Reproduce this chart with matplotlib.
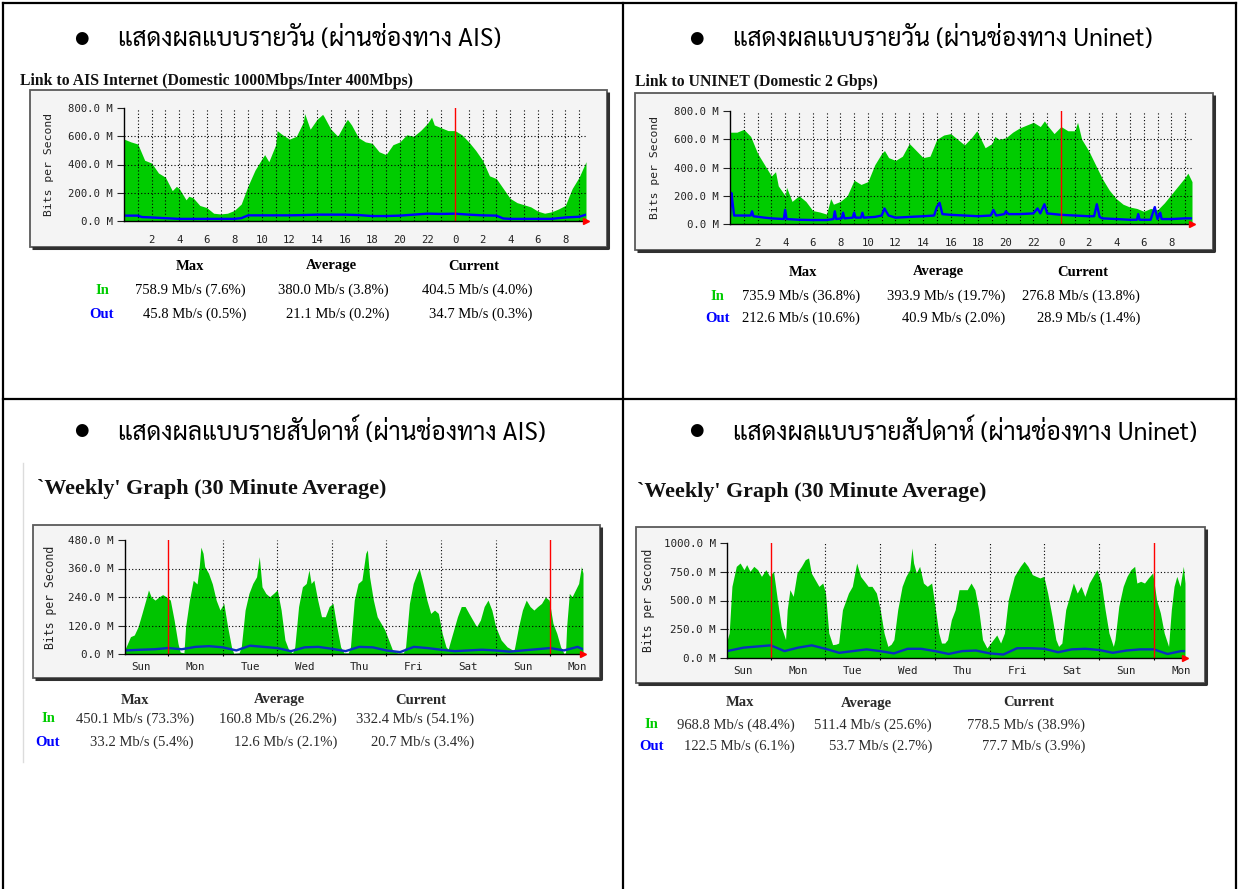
import numpy as np
import matplotlib
matplotlib.use('Agg')
import matplotlib.pyplot as plt
from matplotlib import font_manager as fm
from matplotlib.ft2font import FT2Font
from matplotlib.patches import Rectangle

# ---------------- DATA ----------------
headings = ["แสดงผลแบบรายวัน (ผ่านช่องทาง AIS)",
            "แสดงผลแบบรายวัน (ผ่านช่องทาง Uninet)",
            "แสดงผลแบบรายสัปดาห์ (ผ่านช่องทาง AIS)",
            "แสดงผลแบบรายสัปดาห์ (ผ่านช่องทาง Uninet)"]
titles = ["Link to AIS Internet (Domestic 1000Mbps/Inter 400Mbps)",
          "Link to UNINET (Domestic 2 Gbps)",
          "`Weekly' Graph (30 Minute Average)",
          "`Weekly' Graph (30 Minute Average)"]

# daily AIS, hours since previous midnight, Mb/s
ais_day_in_h = [0, 0.5, 1, 1.5, 2, 2.5, 3, 3.5, 3.8, 4, 4.5, 4.7, 5, 5.5, 6, 6.5, 7, 7.5, 8, 8.5, 9, 9.5, 10,
                10.2, 10.5, 11, 11.1, 11.5, 12, 12.5, 13, 13.1, 13.5, 14, 14.4, 14.5, 15, 15.5, 16, 16.2, 16.5,
                17, 17.5, 18, 18.5, 19, 19.5, 20, 20.5, 21, 21.5, 22, 22.3, 22.5, 23, 23.5, 24, 24.5, 25, 25.5,
                26, 26.5, 27, 27.5, 28, 28.5, 29, 29.5, 30, 30.5, 31, 31.5, 32, 32.5, 33, 33.5]
ais_day_in = [580, 560, 545, 430, 410, 340, 310, 215, 245, 230, 150, 175, 165, 110, 95, 55, 50, 55, 75, 120, 250, 360, 440,
              470, 420, 540, 640, 610, 580, 600, 700, 760, 650, 720, 755, 740, 650, 600, 690, 720, 680,
              590, 560, 550, 490, 470, 540, 560, 610, 600, 640, 690, 735, 680, 660, 640, 640, 610, 560, 500,
              430, 320, 300, 230, 160, 130, 115, 100, 70, 55, 65, 85, 110, 230, 310, 420]
ais_day_out_h = [0, 1, 1.3, 2, 3, 4, 5, 6, 7, 8, 8.5, 9, 10, 11, 12, 13, 14, 15, 16, 17, 18, 19, 20, 21, 22, 23, 24,
                 25, 26, 27, 27.5, 28, 29, 30, 31, 32, 33, 33.5]
ais_day_out = [38, 38, 28, 25, 20, 15, 15, 15, 15, 15, 20, 40, 40, 40, 40, 42, 45, 45, 45, 42, 35, 35, 38, 45, 52, 50, 52,
               45, 40, 38, 18, 15, 15, 15, 15, 25, 30, 45]

# daily UNINET
uni_day_in_h = [0, 0.5, 1, 1.5, 2, 2.5, 3, 3.3, 3.5, 4, 4.1, 4.5, 5, 5.5, 6, 6.5, 7, 7.3, 7.5, 8, 8.5, 9, 9.5, 10, 10.5,
                11, 11.2, 11.5, 12, 12.5, 13, 13.5, 14, 14.5, 15, 15.5, 16, 16.5, 17, 17.5, 17.9, 18, 18.5, 19, 19.2,
                19.5, 20, 20.5, 21, 21.5, 22, 22.5, 22.8, 23, 23.5, 24, 24.5, 25, 25.2, 25.5, 26, 26.5, 27, 27.5,
                28, 28.5, 29, 29.5, 30, 30.5, 31, 31.5, 32, 32.5, 33, 33.2, 33.5]
uni_day_in = [650, 650, 670, 620, 500, 420, 340, 370, 270, 200, 260, 160, 200, 160, 95, 85, 70, 180, 140, 160, 200, 310, 280, 300, 420,
              500, 520, 470, 450, 480, 570, 520, 470, 480, 600, 630, 640, 600, 560, 610, 660, 640, 540, 570, 620,
              600, 610, 650, 680, 700, 720, 690, 730, 700, 640, 690, 660, 660, 720, 600, 520, 420, 320, 240,
              180, 140, 120, 110, 90, 110, 100, 150, 210, 270, 330, 360, 300]
uni_day_out_h = [0.0, 0.1, 0.2, 0.3, 1.0, 1.5, 1.6, 1.7, 2.5, 3.0, 3.9, 4.0, 4.1, 5, 6, 7, 7.5, 7.6, 7.7, 8.1, 8.2, 8.3,
                 8.9, 9.0, 9.1, 9.5, 9.6, 9.7, 10.5, 11.0, 11.2, 11.5, 12, 13, 14, 14.8, 15.0, 15.2, 15.4, 16, 17, 18,
                 18.9, 19.1, 19.3, 19.9, 20.0, 20.2, 21, 22, 22.3, 22.5, 22.8, 23.0, 24, 25, 26, 26.4, 26.6, 26.8, 27,
                 28, 29, 29.5, 29.6, 29.7, 30.5, 30.7, 30.8, 31.0, 31.2, 31.3, 32, 33, 33.5]
uni_day_out = [60, 220, 140, 60, 60, 60, 90, 55, 45, 40, 35, 100, 35, 30, 28, 28, 35, 90, 35, 40, 80, 40,
               45, 80, 45, 45, 80, 45, 50, 60, 110, 60, 45, 50, 55, 60, 120, 150, 70, 65, 60, 55,
               60, 100, 60, 70, 90, 70, 70, 75, 110, 75, 140, 75, 65, 60, 55, 55, 140, 50, 40,
               35, 30, 30, 70, 30, 30, 90, 120, 35, 80, 35, 35, 40, 40]

# weekly AIS, days since Monday 00:00
ais_wk_in_d = [-0.79, -0.77, -0.69, -0.62, -0.55, -0.48, -0.41, -0.36, -0.31, -0.24, -0.17, -0.10, -0.03, 0.04, 0.11, 0.18, 0.22, 0.29,
               0.32, 0.39, 0.46, 0.53, 0.57, 0.60, 0.64, 0.67, 0.74, 0.81, 0.88, 0.95, 1.02, 1.09, 1.16, 1.20, 1.30,
               1.34, 1.41, 1.48, 1.55, 1.62, 1.67, 1.72, 1.79, 1.86, 1.93, 2.00, 2.07, 2.14, 2.21, 2.28,
               2.32, 2.39, 2.46, 2.53, 2.58, 2.62, 2.67, 2.74, 2.81, 2.88, 2.95, 3.02, 3.09, 3.16, 3.22, 3.30,
               3.34, 3.41, 3.48, 3.55, 3.62, 3.65, 3.69, 3.76, 3.83, 3.90, 3.97, 4.04, 4.11, 4.20, 4.31,
               4.35, 4.42, 4.49, 4.56, 4.60, 4.67, 4.74, 4.81, 4.88, 4.95, 5.02, 5.09, 5.13,
               5.16, 5.23, 5.30, 5.37, 5.44, 5.51, 5.58, 5.65, 5.72, 5.79, 5.86, 5.93, 6.00, 6.10, 6.21, 6.31, 6.33,
               6.35, 6.42, 6.49, 6.56, 6.63, 6.70, 6.77, 6.84, 6.91, 6.98, 7.05, 7.12, 7.19, 7.25, 7.28,
               7.30, 7.35, 7.40, 7.46, 7.52, 7.57, 7.60]
ais_wk_in = [20, 30, 73, 80, 115, 170, 227, 270, 240, 227, 240, 250, 240, 227, 143, 45, 8, 5,
             115, 227, 310, 295, 368, 450, 424, 368, 340, 295, 227, 185, 213, 115, 30, 3, 5,
             30, 185, 255, 297, 325, 410, 283, 255, 241, 255, 270, 185, 59, 17, 5,
             30, 200, 283, 297, 354, 297, 311, 227, 157, 157, 200, 213, 115, 30, 5, 5,
             30, 227, 297, 311, 424, 438, 325, 227, 157, 129, 101, 59, 17, 5, 5,
             30, 213, 297, 340, 360, 297, 227, 171, 185, 171, 87, 30, 20,
             45, 101, 157, 200, 200, 171, 143, 115, 143, 200, 227, 185, 115, 59, 30, 17, 10,
             30, 115, 185, 227, 200, 185, 200, 213, 240, 227, 129, 87, 30, 3, 5,
             115, 255, 241, 269, 297, 368, 340]
ais_wk_out_d = [-0.79, -0.5, -0.25, 0, 0.25, 0.5, 0.75, 1.0, 1.25, 1.5, 1.75, 2.0, 2.25, 2.5, 2.75, 3.0, 3.25, 3.5,
                3.75, 4.0, 4.25, 4.5, 4.75, 5.0, 5.25, 5.5, 5.75, 6.0, 6.25, 6.5, 6.75, 7.0, 7.25, 7.5, 7.6]
ais_wk_out = [15, 18, 20, 25, 20, 30, 33, 28, 15, 35, 30, 25, 12, 28, 30, 22, 12, 30,
              28, 15, 8, 30, 25, 18, 12, 15, 18, 15, 10, 15, 20, 25, 15, 30, 20]

# weekly UNINET
uni_wk_in_d = [-0.80, -0.76, -0.71, -0.63, -0.56, -0.49, -0.44, -0.38, -0.31, -0.24, -0.17, -0.09, -0.02, 0.05, 0.12, 0.19, 0.27,
               0.30, 0.35, 0.41, 0.48, 0.56, 0.63, 0.69, 0.74, 0.81, 0.88, 0.95, 1.00, 1.06, 1.13, 1.19,
               1.24, 1.31, 1.42, 1.49, 1.57, 1.64, 1.71, 1.78, 1.85, 1.93, 2.00, 2.07, 2.14, 2.20,
               2.25, 2.32, 2.40, 2.47, 2.54, 2.58, 2.61, 2.66, 2.72, 2.79, 2.86, 2.94, 3.01, 3.07, 3.12, 3.18,
               3.23, 3.30, 3.37, 3.44, 3.51, 3.59, 3.66, 3.73, 3.80, 3.87, 3.95, 4.05, 4.13, 4.20,
               4.27, 4.34, 4.45, 4.56, 4.63, 4.70, 4.78, 4.85, 4.92, 4.99, 5.06, 5.14, 5.21, 5.26,
               5.32, 5.39, 5.46, 5.53, 5.60, 5.67, 5.74, 5.82, 5.89, 5.96, 6.04, 6.11, 6.18, 6.26,
               6.29, 6.36, 6.44, 6.51, 6.58, 6.65, 6.69, 6.76, 6.83, 6.90, 6.98, 7.05, 7.12, 7.19, 7.27,
               7.32, 7.37, 7.42, 7.48, 7.54, 7.57]
uni_wk_in = [150, 217, 623, 797, 826, 768, 812, 754, 797, 768, 710, 768, 710, 754, 507, 275, 160,
             420, 594, 536, 740, 797, 855, 870, 740, 681, 623, 652, 565, 217, 116, 120,
             130, 420, 565, 623, 826, 710, 667, 623, 623, 565, 420, 217, 101, 120,
             160, 420, 623, 710, 768, 957, 826, 740, 797, 652, 623, 652, 420, 217, 130, 130,
             160, 333, 420, 594, 594, 594, 652, 594, 420, 160, 87, 150, 200, 130,
             217, 507, 710, 797, 841, 797, 725, 710, 696, 710, 565, 362, 160, 101,
             130, 420, 536, 652, 565, 623, 536, 652, 710, 768, 652, 420, 217, 101,
             160, 449, 623, 710, 768, 797, 652, 667, 652, 696, 740, 507, 391, 217, 101,
             420, 623, 710, 623, 797, 652]
uni_wk_out_d = [-0.80, -0.5, -0.25, 0, 0.25, 0.5, 0.75, 1.0, 1.25, 1.5, 1.75, 2.0, 2.25, 2.5, 2.75, 3.0, 3.25, 3.5,
                3.75, 4.0, 4.25, 4.5, 4.75, 5.0, 5.25, 5.5, 5.75, 6.0, 6.25, 6.5, 6.75, 7.0, 7.25, 7.5, 7.57]
uni_wk_out = [60, 90, 100, 110, 60, 90, 110, 80, 45, 60, 75, 60, 40, 80, 80, 60, 35, 60,
              65, 40, 30, 85, 85, 80, 50, 75, 80, 70, 45, 65, 75, 75, 35, 60, 60]

day_hours_range = [0, 33.5]
week_days_ais = [-0.79, 7.6]
week_days_uni = [-0.80, 7.57]
day_ticks = [0, 200, 400, 600, 800]
day_ticklabels = ['0.0 M', '200.0 M', '400.0 M', '600.0 M', '800.0 M']
ais_wk_ticks = [0, 120, 240, 360, 480]
ais_wk_ticklabels = ['0.0 M', '120.0 M', '240.0 M', '360.0 M', '480.0 M']
uni_wk_ticks = [0, 250, 500, 750, 1000]
uni_wk_ticklabels = ['0.0 M', '250.0 M', '500.0 M', '750.0 M', '1000.0 M']
weekday_names = ['Sun', 'Mon', 'Tue', 'Wed', 'Thu', 'Fri', 'Sat', 'Sun', 'Mon']

stat_cols = ['Max', 'Average', 'Current']
stats = [
    (["758.9 Mb/s (7.6%)", "380.0 Mb/s (3.8%)", "404.5 Mb/s (4.0%)"],
     ["45.8 Mb/s (0.5%)", "21.1 Mb/s (0.2%)", "34.7 Mb/s (0.3%)"]),
    (["735.9 Mb/s (36.8%)", "393.9 Mb/s (19.7%)", "276.8 Mb/s (13.8%)"],
     ["212.6 Mb/s (10.6%)", "40.9 Mb/s (2.0%)", "28.9 Mb/s (1.4%)"]),
    (["450.1 Mb/s (73.3%)", "160.8 Mb/s (26.2%)", "332.4 Mb/s (54.1%)"],
     ["33.2 Mb/s (5.4%)", "12.6 Mb/s (2.1%)", "20.7 Mb/s (3.4%)"]),
    (["968.8 Mb/s (48.4%)", "511.4 Mb/s (25.6%)", "778.5 Mb/s (38.9%)"],
     ["122.5 Mb/s (6.1%)", "53.7 Mb/s (2.7%)", "77.7 Mb/s (3.9%)"]),
]

# ---------------- FONTS ----------------
def thai_fonts():
    found = []
    for f in fm.fontManager.ttflist:
        try:
            cm = FT2Font(f.fname).get_charmap()
        except Exception:
            continue
        if 0x0E41 in cm and 0x0E2A in cm and 0x0E1C in cm:
            if f.name not in found:
                found.append(f.name)
    return found

thai_found = thai_fonts()
pref = ['Sarabun', 'TH Sarabun New', 'Noto Sans Thai Looped', 'Noto Sans Thai', 'Loma', 'Garuda']
thai = None
for p in pref:
    if p in thai_found:
        thai = p
        break
if thai is None and thai_found:
    thai = thai_found[0]
thai_family = [thai, 'DejaVu Sans'] if thai else ['DejaVu Sans']
SERIF = 'Liberation Serif'
MONO = 'DejaVu Sans Mono'

# ---------------- FIGURE ----------------
W, H = 1239, 889
fig = plt.figure(figsize=(W / 100, H / 100), dpi=100)
fig.patch.set_facecolor('white')
bg = fig.add_axes([0, 0, 1, 1])
bg.set_xlim(0, W)
bg.set_ylim(H, 0)
bg.axis('off')
bg.set_zorder(0)

# table borders
lw_b = 1.6
bg.plot([3, 1236], [3, 3], color='black', lw=lw_b)
bg.plot([3, 3], [3, H], color='black', lw=lw_b)
bg.plot([1236, 1236], [3, H], color='black', lw=lw_b)
bg.plot([623, 623], [3, H], color='black', lw=lw_b)
bg.plot([3, 1236], [399, 399], color='black', lw=lw_b)
# edge of pasted screenshot in lower-left cell
bg.plot([23, 23], [463, 762], color='#dcdcdc', lw=1)

# headings
head_pos = [(81, 118, 40), (696, 733, 40), (81, 118, 432), (696, 733, 432)]
for (bx, tx, ty), txt in zip(head_pos, headings):
    bg.text(bx, ty - 2, '\u25cf', fontsize=12, family='DejaVu Sans', ha='center', va='center')
    bg.text(tx, ty, txt, fontsize=17.8, family=thai_family, ha='left', va='center')

# titles
title_pos = [(20, 81, 11.3), (635, 82, 11.3), (37, 489, 15.8), (637, 492, 15.8)]
for (x, y, fs), t in zip(title_pos, titles):
    bg.text(x, y, t, fontsize=fs, family=SERIF, weight='bold', ha='left', va='center', color='#111111')


def px_axes(x0, y0, x1, y1):
    return fig.add_axes([x0 / W, 1 - y1 / H, (x1 - x0) / W, (y1 - y0) / H])


def frame(x0, y0, x1, y1):
    bg.add_patch(Rectangle((x0, y0), x1 - x0, y1 - y0, facecolor='#f4f4f4', edgecolor='#5a5a5a', lw=1.3, zorder=1))
    bg.plot([x0 + 2, x1 + 1, x1 + 1], [y1 + 1, y1 + 1, y0 + 2], color='#303030', lw=2.2, zorder=1,
            solid_capstyle='butt')


def mrtg(plot_box, xr, t_in, v_in, t_out, v_out, yticks, yticklabels, vlines, redlines,
         xticks, xticklabels, xtickmarks, ylabel_x, green, blue, fs, xpad):
    x0, y0, x1, y1 = plot_box
    ax = px_axes(x0, y0, x1, y1)
    ax.set_zorder(2)
    ax.set_facecolor('none')
    ax.set_xlim(*xr)
    ax.set_ylim(0, yticks[-1])
    ax.fill_between(t_in, 0, v_in, color=green, lw=0, zorder=2)
    for v in vlines:
        ax.axvline(v, color='black', ls=(0, (1, 2)), lw=0.8, zorder=3)
    for yy in yticks[1:-1]:
        ax.axhline(yy, color='black', ls=(0, (1, 2)), lw=0.8, zorder=3)
    ax.plot(t_out, v_out, color=blue, lw=1.7, zorder=4)
    for r in redlines:
        ax.axvline(r, color='red', lw=1.0, zorder=5)
    for s in ['top', 'right']:
        ax.spines[s].set_visible(False)
    for s in ['left', 'bottom']:
        ax.spines[s].set_color('black')
        ax.spines[s].set_linewidth(1.0)
        ax.spines[s].set_zorder(6)
    ax.set_yticks(yticks)
    ax.set_yticklabels(yticklabels, family=MONO, fontsize=fs)
    ax.tick_params(axis='y', length=5, width=0.8, pad=3, colors='#222222')
    ax.set_xticks(xticks)
    ax.set_xticklabels(xticklabels, family=MONO, fontsize=fs)
    ax.set_xticks(xtickmarks, minor=True)
    ax.tick_params(axis='x', which='major', length=0, pad=xpad, colors='#222222')
    ax.tick_params(axis='x', which='minor', length=3, width=0.8, direction='inout', color='black')
    ax.set_ylabel('Bits per Second', family=MONO, fontsize=fs + 0.5, color='#222222')
    ax.yaxis.set_label_coords(-(x0 - ylabel_x) / (x1 - x0), 0.5)
    ax.plot([xr[1]], [0], marker='>', color='red', ms=5, clip_on=False, zorder=7, mec='red')
    return ax


green_d, blue_d = '#00cc00', '#0000ff'
green_w, blue_w = '#00c400', '#0a2fc0'

# daily graphs
hour_lines = [h for h in range(1, 34) if h != 24]
hour_ticks = list(range(2, 34, 2))
hour_labels = [str(h % 24) for h in hour_ticks]

frame(30, 90, 607, 247)
mrtg((124, 108, 586, 221), day_hours_range, ais_day_in_h, ais_day_in, ais_day_out_h, ais_day_out,
     day_ticks, day_ticklabels, hour_lines, [24], hour_ticks, hour_labels, [], 54, green_d, blue_d, 7.7, 10)

frame(635, 93, 1213, 250)
mrtg((730, 111, 1192, 224), day_hours_range, uni_day_in_h, uni_day_in, uni_day_out_h, uni_day_out,
     day_ticks, day_ticklabels, hour_lines, [24], hour_ticks, hour_labels, [], 660, green_d, blue_d, 7.7, 10)

# weekly graphs
day_lines = [1, 2, 3, 4, 5, 6]
day_label_pos = [-0.5, 0.5, 1.5, 2.5, 3.5, 4.5, 5.5, 6.5, 7.5]
frame(33, 525, 600, 678)
mrtg((125, 540, 583, 654), week_days_ais, ais_wk_in_d, ais_wk_in, ais_wk_out_d, ais_wk_out,
     ais_wk_ticks, ais_wk_ticklabels, day_lines, [0, 7], day_label_pos, weekday_names, list(range(0, 8)),
     57, green_w, blue_w, 7.8, 6)

frame(636, 527, 1205, 683)
mrtg((727, 543, 1185, 658), week_days_uni, uni_wk_in_d, uni_wk_in, uni_wk_out_d, uni_wk_out,
     uni_wk_ticks, uni_wk_ticklabels, day_lines, [0, 7], day_label_pos, weekday_names, list(range(0, 8)),
     655, green_w, blue_w, 7.8, 6)

# stats tables
stat_layout = [
    dict(hy=266, ry=(290, 314), lx=102, hx=(190, 331, 474), rx=(246, 389, 532), col='#000000'),
    dict(hy=272, ry=(296, 318), lx=717, hx=(803, 938, 1083), rx=(860, 1005, 1140), col='#000000'),
    dict(hy=700, ry=(719, 742), lx=48, hx=(135, 279, 421), rx=(194, 337, 474), col='#2a2a2a'),
    dict(hy=703, ry=(725, 746), lx=651, hx=(740, 866, 1029), rx=(795, 932, 1085), col='#2a2a2a'),
]
for lay, (vin, vout) in zip(stat_layout, stats):
    for hx, name in zip(lay['hx'], stat_cols):
        bg.text(hx, lay['hy'], name, family=SERIF, weight='bold', fontsize=10.5, ha='center', va='center',
                color=lay['col'])
    bg.text(lay['lx'], lay['ry'][0], 'In', family=SERIF, weight='bold', fontsize=10.5, ha='center',
            va='center', color='#00cc00')
    bg.text(lay['lx'], lay['ry'][1], 'Out', family=SERIF, weight='bold', fontsize=10.5, ha='center',
            va='center', color='#0000ff')
    for rx, a, b in zip(lay['rx'], vin, vout):
        bg.text(rx, lay['ry'][0], a, family=SERIF, fontsize=10.5, ha='right', va='center', color=lay['col'])
        bg.text(rx, lay['ry'][1], b, family=SERIF, fontsize=10.5, ha='right', va='center', color=lay['col'])

fig.savefig('out.png', dpi=100, facecolor='white')
